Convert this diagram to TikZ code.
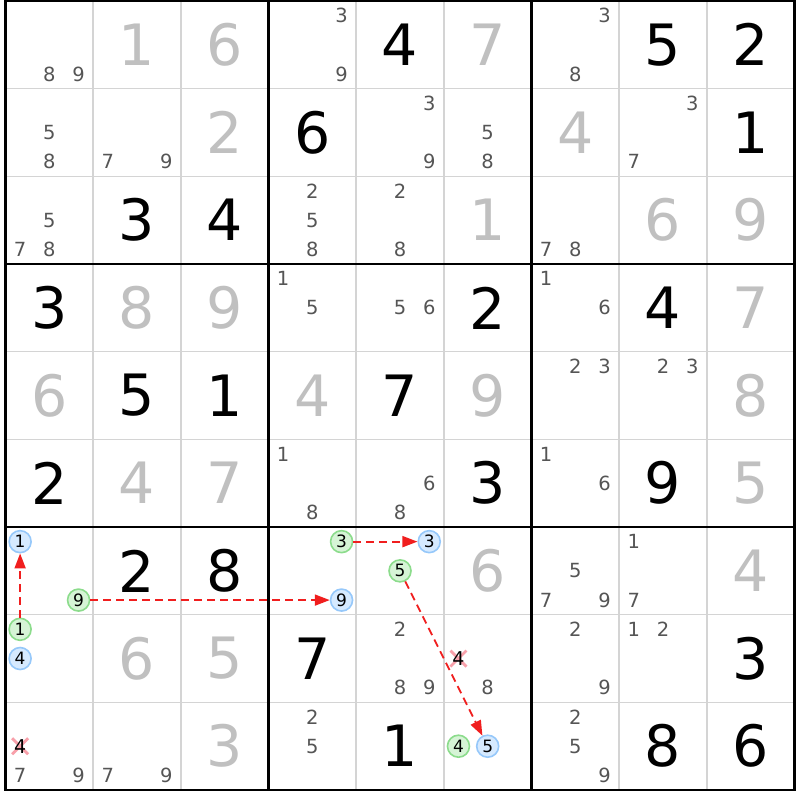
\documentclass[tikz,border=0pt]{standalone}
\usepackage{fontspec}
\setmainfont{DejaVu Sans}
\usetikzlibrary{arrows.meta,calc}
\definecolor{candcol}{RGB}{85,85,85}
\definecolor{givencol}{RGB}{192,192,192}
\definecolor{gridthin}{RGB}{212,212,212}
\definecolor{bluebd}{RGB}{150,200,250}
\definecolor{bluefl}{RGB}{214,234,255}
\definecolor{greenbd}{RGB}{140,220,140}
\definecolor{greenfl}{RGB}{214,244,214}
\definecolor{crosscol}{RGB}{248,160,170}
\definecolor{linkred}{RGB}{240,30,30}
\tikzset{
  bigsolved/.style={inner sep=0pt, text=black, font=\fontsize{57}{57}\selectfont},
  biggiven/.style={inner sep=0pt, text=givencol, font=\fontsize{57}{57}\selectfont},
  cand/.style={inner sep=0pt, text=candcol, font=\fontsize{19.5}{19.5}\selectfont},
  candx/.style={inner sep=0pt, text=black, font=\fontsize{19}{19}\selectfont},
  bluec/.style={circle, draw=bluebd, fill=bluefl, line width=1.6pt, minimum size=22pt, inner sep=0pt, text=black, font=\fontsize{17}{17}\selectfont},
  greenc/.style={circle, draw=greenbd, fill=greenfl, line width=1.6pt, minimum size=22pt, inner sep=0pt, text=black, font=\fontsize{17}{17}\selectfont},
  thinline/.style={draw=gridthin, line width=1.5pt},
  thickline/.style={draw=black, line width=2.8pt},
  crossmark/.style={draw=crosscol, line width=2.8pt},
  link/.style={draw=linkred, line width=1.8pt, dash pattern=on 8pt off 5pt, -{Triangle[length=15pt,width=11pt]}},
}
\begin{document}
\begin{tikzpicture}[x=1pt, y=-1pt,
  declare function={
    gx(\i)=5.5+\i*87.67;
    gy(\i)=1+\i*87.67;
    cx(\c)=5.5+(\c-0.5)*87.67;
    cy(\r)=1+(\r-0.5)*87.67;
    kx(\c,\d)=5.5+(\c-1)*87.67+(2*mod(\d-1,3)+1)*87.67/6;
    ky(\r,\d)=1+(\r-1)*87.67+(2*floor((\d-1)/3)+1)*87.67/6;
  }]
\useasboundingbox (0,0) rectangle (800,800);
\fill[white] (0,0) rectangle (800,800);
% thin grid lines
\foreach \i in {1,2,4,5,7,8} {
  \draw[thinline] ({gx(\i)},{gy(0)}) -- ({gx(\i)},{gy(9)});
  \draw[thinline] ({gx(0)},{gy(\i)}) -- ({gx(9)},{gy(\i)});
}
% thick box lines
\foreach \i in {0,3,6,9} {
  \draw[thickline] ({gx(\i)},{gy(0)-1.4}) -- ({gx(\i)},{gy(9)+1.4});
  \draw[thickline] ({gx(0)-1.4},{gy(\i)}) -- ({gx(9)+1.4},{gy(\i)});
}
% big digits
\foreach \r/\c/\d/\s in {
  1/2/1/biggiven, 1/3/6/biggiven, 1/5/4/bigsolved, 1/6/7/biggiven, 1/8/5/bigsolved, 1/9/2/bigsolved,
  2/3/2/biggiven, 2/4/6/bigsolved, 2/7/4/biggiven, 2/9/1/bigsolved,
  3/2/3/bigsolved, 3/3/4/bigsolved, 3/6/1/biggiven, 3/8/6/biggiven, 3/9/9/biggiven,
  4/1/3/bigsolved, 4/2/8/biggiven, 4/3/9/biggiven, 4/6/2/bigsolved, 4/8/4/bigsolved, 4/9/7/biggiven,
  5/1/6/biggiven, 5/2/5/bigsolved, 5/3/1/bigsolved, 5/4/4/biggiven, 5/5/7/bigsolved, 5/6/9/biggiven, 5/9/8/biggiven,
  6/1/2/bigsolved, 6/2/4/biggiven, 6/3/7/biggiven, 6/6/3/bigsolved, 6/8/9/bigsolved, 6/9/5/biggiven,
  7/2/2/bigsolved, 7/3/8/bigsolved, 7/6/6/biggiven, 7/9/4/biggiven,
  8/2/6/biggiven, 8/3/5/biggiven, 8/4/7/bigsolved, 8/9/3/bigsolved,
  9/3/3/biggiven, 9/5/1/bigsolved, 9/8/8/bigsolved, 9/9/6/bigsolved} {
  \node[\s] (v\r\c) at ({cx(\c)},{cy(\r)}) {\d};
}
% plain candidates
\foreach \r/\c/\d in {
  1/1/8, 1/1/9, 1/4/3, 1/4/9, 1/7/3, 1/7/8,
  2/1/5, 2/1/8, 2/2/7, 2/2/9, 2/5/3, 2/5/9, 2/6/5, 2/6/8, 2/8/3, 2/8/7,
  3/1/5, 3/1/7, 3/1/8, 3/4/2, 3/4/5, 3/4/8, 3/5/2, 3/5/8, 3/7/7, 3/7/8,
  4/4/1, 4/4/5, 4/5/5, 4/5/6, 4/7/1, 4/7/6,
  5/7/2, 5/7/3, 5/8/2, 5/8/3,
  6/4/1, 6/4/8, 6/5/6, 6/5/8, 6/7/1, 6/7/6,
  7/7/5, 7/7/7, 7/7/9, 7/8/1, 7/8/7,
  8/5/2, 8/5/8, 8/5/9, 8/6/8, 8/7/2, 8/7/9, 8/8/1, 8/8/2,
  9/1/7, 9/1/9, 9/2/7, 9/2/9, 9/4/2, 9/4/5, 9/7/2, 9/7/5, 9/7/9} {
  \node[cand] (k\r\c\d) at ({kx(\c,\d)},{ky(\r,\d)}) {\d};
}
% eliminated candidates (crossed)
\foreach \r/\c/\d in {8/6/4, 9/1/4} {
  \coordinate (x\r\c\d) at ({kx(\c,\d)},{ky(\r,\d)});
  \draw[crossmark] ($(x\r\c\d)+(-8,-8)$) -- ($(x\r\c\d)+(8,8)$);
  \draw[crossmark] ($(x\r\c\d)+(-8,8)$) -- ($(x\r\c\d)+(8,-8)$);
  \node[candx] (e\r\c\d) at (x\r\c\d) {\d};
}
% highlighted candidates
\foreach \r/\c/\d in {7/1/1, 7/4/9, 7/5/3, 8/1/4, 9/6/5} {
  \node[bluec] (b\r\c\d) at ({kx(\c,\d)},{ky(\r,\d)}) {\d};
}
\foreach \r/\c/\d in {7/1/9, 7/4/3, 7/5/5, 8/1/1, 9/6/4} {
  \node[greenc] (g\r\c\d) at ({kx(\c,\d)},{ky(\r,\d)}) {\d};
}
% links
\draw[link] (g811) -- (b711);
\draw[link] (g719) -- (b749);
\draw[link] (g743) -- (b753);
\draw[link] (g755) -- (b965);
\end{tikzpicture}
\end{document}
